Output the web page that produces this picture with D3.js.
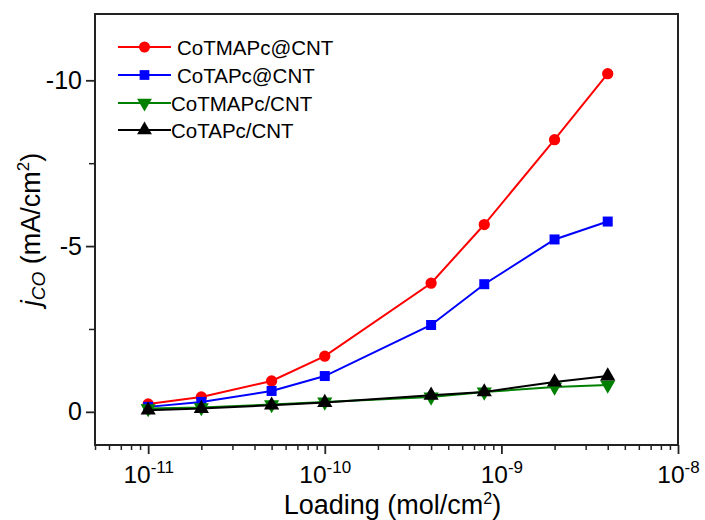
<!DOCTYPE html>
<html>
<head>
<meta charset="utf-8">
<script src="https://cdn.jsdelivr.net/npm/d3@7"></script>
<style>
  body { margin: 0; background: #fff; }
  text { font-family: Arial, "Liberation Sans", sans-serif; fill: #000; }
</style>
</head>
<body>
<script>
const loading = [1e-11, 2e-11, 5e-11, 1e-10, 4e-10, 8e-10, 2e-9, 4e-9]
const coTMAPcAtCNT = [-0.24, -0.45, -0.93, -1.68, -3.88, -5.65, -8.21, -10.2]
const coTAPcAtCNT = [-0.15, -0.3, -0.63, -1.08, -2.62, -3.85, -5.2, -5.74]
const coTMAPcCNT = [-0.1, -0.13, -0.22, -0.3, -0.45, -0.6, -0.75, -0.81]
const coTAPcCNT = [-0.05, -0.1, -0.2, -0.28, -0.5, -0.6, -0.9, -1.08]
const seriesNames = ['CoTMAPc@CNT', 'CoTAPc@CNT', 'CoTMAPc/CNT', 'CoTAPc/CNT']
const xMajorTicks = [1e-11, 1e-10, 1e-9, 1e-8]
const yMajorTicks = [0, -5, -10]
const yMinorTicks = [-2.5, -7.5]

const series = [
  { name: seriesNames[0], values: coTMAPcAtCNT, color: '#ff0000', symbol: 'circle' },
  { name: seriesNames[1], values: coTAPcAtCNT, color: '#0000ff', symbol: 'square' },
  { name: seriesNames[2], values: coTMAPcCNT, color: '#008000', symbol: 'down' },
  { name: seriesNames[3], values: coTAPcCNT, color: '#000000', symbol: 'up' }
]

const W = 705, H = 520
const frame = { left: 95, right: 678, top: 14, bottom: 445 }

const svg = d3.select('body').append('svg')
  .attr('width', W)
  .attr('height', H)

const x = d3.scaleLog()
  .domain([5e-12, 1e-8])
  .range([frame.left, frame.right])
const y = d3.scaleLinear()
  .domain([1, -12])
  .range([frame.bottom, frame.top])

// minor x ticks: 2..9 per decade
const xMinor = []
for (let e = -12; e <= -9; e++) {
  for (let m = 2; m <= 9; m++) {
    const v = m * Math.pow(10, e)
    if (v >= 5e-12 && v < 1e-8) xMinor.push(v)
  }
}

const axisColor = '#222'

svg.append('g')
  .attr('transform', `translate(0, ${frame.bottom})`)
  .call(d3.axisBottom(x).tickValues(xMinor).tickSize(5).tickFormat(''))
  .call(g => g.select('.domain').remove())
  .call(g => g.selectAll('line').attr('stroke', axisColor).attr('stroke-width', 1.5))

const xAxis = svg.append('g')
  .attr('transform', `translate(0, ${frame.bottom})`)
  .call(d3.axisBottom(x).tickValues(xMajorTicks).tickSize(9).tickFormat(''))
  .call(g => g.select('.domain').remove())
  .call(g => g.selectAll('line').attr('stroke', axisColor).attr('stroke-width', 1.8))

xAxis.selectAll('.tick').append('text')
  .attr('y', 38)
  .attr('text-anchor', 'middle')
  .style('font-size', '24.5px')
  .each(function (d) {
    const t = d3.select(this)
    t.append('tspan').text('10')
    t.append('tspan')
      .attr('dy', -10)
      .style('font-size', '17px')
      .text(Math.round(Math.log10(d)))
  })

svg.append('g')
  .attr('transform', `translate(${frame.left}, 0)`)
  .call(d3.axisLeft(y).tickValues(yMinorTicks).tickSize(6).tickFormat(''))
  .call(g => g.select('.domain').remove())
  .call(g => g.selectAll('line').attr('stroke', axisColor).attr('stroke-width', 1.5))

svg.append('g')
  .attr('transform', `translate(${frame.left}, 0)`)
  .call(d3.axisLeft(y).tickValues(yMajorTicks).tickSize(9).tickPadding(4).tickFormat(d3.format('d')))
  .call(g => g.select('.domain').remove())
  .call(g => g.selectAll('line').attr('stroke', axisColor).attr('stroke-width', 1.8))
  .call(g => g.selectAll('text')
    .style('font-size', '25px')
    .attr('fill', '#000')
    .text(d => d === 0 ? '0' : '-' + Math.abs(d)))

svg.append('rect')
  .attr('x', frame.left)
  .attr('y', frame.top)
  .attr('width', frame.right - frame.left)
  .attr('height', frame.bottom - frame.top)
  .attr('fill', 'none')
  .attr('stroke', axisColor)
  .attr('stroke-width', 2)

// axis titles
const xTitle = svg.append('text')
  .attr('x', (frame.left + frame.right) / 2 + 6)
  .attr('y', 514)
  .attr('text-anchor', 'middle')
  .style('font-size', '27px')
xTitle.append('tspan').text('Loading (mol/cm')
xTitle.append('tspan').attr('dy', -10).style('font-size', '16px').text('2')
xTitle.append('tspan').attr('dy', 10).text(')')

const yTitle = svg.append('text')
  .attr('transform', `translate(40, ${(frame.top + frame.bottom) / 2}) rotate(-90)`)
  .attr('text-anchor', 'middle')
  .style('font-size', '27px')
yTitle.append('tspan').style('font-style', 'italic').text('j')
yTitle.append('tspan').attr('dy', 5).style('font-size', '19px').style('font-style', 'italic').text('CO')
yTitle.append('tspan').attr('dy', -5).text(' (mA/cm')
yTitle.append('tspan').attr('dy', -11).style('font-size', '17px').text('2')
yTitle.append('tspan').attr('dy', 11).text(')')

const line = d3.line()
  .x((d, i) => x(loading[i]))
  .y(d => y(d))

const symbolPath = (s, size) => {
  if (s === 'circle') return d3.symbol(d3.symbolCircle, size)()
  if (s === 'square') return d3.symbol(d3.symbolSquare, size)()
  return d3.symbol(d3.symbolTriangle, size)()
}

series.forEach(s => {
  svg.append('path')
    .datum(s.values)
    .attr('d', line)
    .attr('fill', 'none')
    .attr('stroke', s.color)
    .attr('stroke-width', 2)

  svg.selectAll(null)
    .data(s.values)
    .enter().append('path')
    .attr('d', symbolPath(s.symbol, 100))
    .attr('transform', (d, i) => `translate(${x(loading[i])}, ${y(d)})${s.symbol === 'down' ? ' rotate(180)' : ''}`)
    .attr('fill', s.color)
})

// legend
const legend = svg.append('g')
const rowY = [47, 75, 103, 130]
series.forEach((s, i) => {
  const g = legend.append('g').attr('transform', `translate(0, ${rowY[i]})`)
  g.append('line')
    .attr('x1', 118).attr('x2', 171)
    .attr('stroke', s.color)
    .attr('stroke-width', 2)
  g.append('path')
    .attr('d', symbolPath(s.symbol, 95))
    .attr('transform', `translate(144.5, 0)${s.symbol === 'down' ? ' rotate(180)' : ''}`)
    .attr('fill', s.color)
  g.append('text')
    .attr('x', i < 2 ? 177 : 171)
    .attr('y', 7.5)
    .style('font-size', '20.5px')
    .text(s.name)
})
</script>
</body>
</html>
